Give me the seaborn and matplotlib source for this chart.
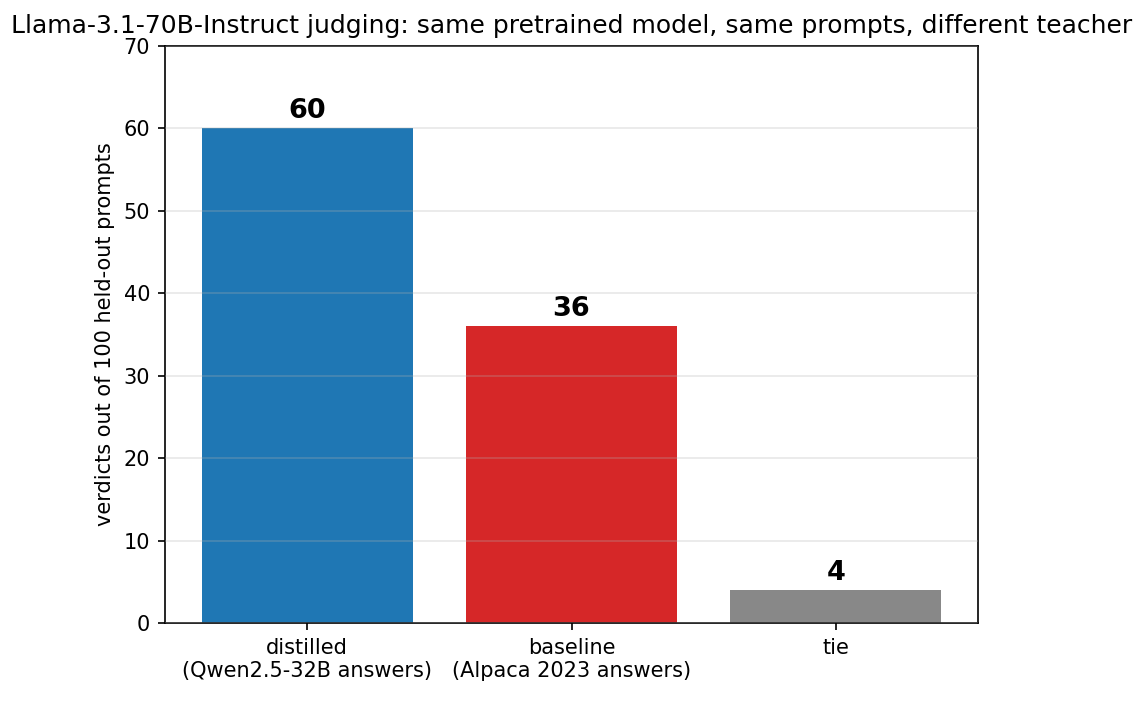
import pandas as pd
import seaborn as sns
import matplotlib.pyplot as plt

categories = ["distilled\n(Qwen2.5-32B answers)", "baseline\n(Alpaca 2023 answers)", "tie"]
verdicts = [60, 36, 4]
bar_colors = ["#1f77b4", "#d62728", "#888888"]

df = pd.DataFrame({"outcome": categories, "verdicts": verdicts})

plt.rcParams["font.family"] = ["DejaVu Sans"]

fig, ax = plt.subplots(figsize=(7.62, 4.687), dpi=150)
sns.barplot(data=df, x="outcome", y="verdicts", hue="outcome",
            palette=bar_colors, width=0.8, saturation=1, legend=False,
            linewidth=0, edgecolor="none", ax=ax)

# count on top of each bar
for i, v in enumerate(verdicts):
    ax.text(i, v + 0.5, str(v), ha="center", va="bottom",
            fontsize=13, fontweight="bold", color="black")

ax.set_xlim(-0.54, 2.54)
ax.set_ylim(0, 70)
ax.set_xlabel("")
ax.set_ylabel("verdicts out of 100 held-out prompts")
ax.set_title("Llama-3.1-70B-Instruct judging: same pretrained model, same prompts, different teacher")
ax.yaxis.grid(True, alpha=0.3)
ax.xaxis.grid(False)
ax.set_axisbelow(False)

fig.subplots_adjust(left=0.144, right=0.856, top=0.9346, bottom=0.1138)
fig.savefig("out.png", dpi=150)
